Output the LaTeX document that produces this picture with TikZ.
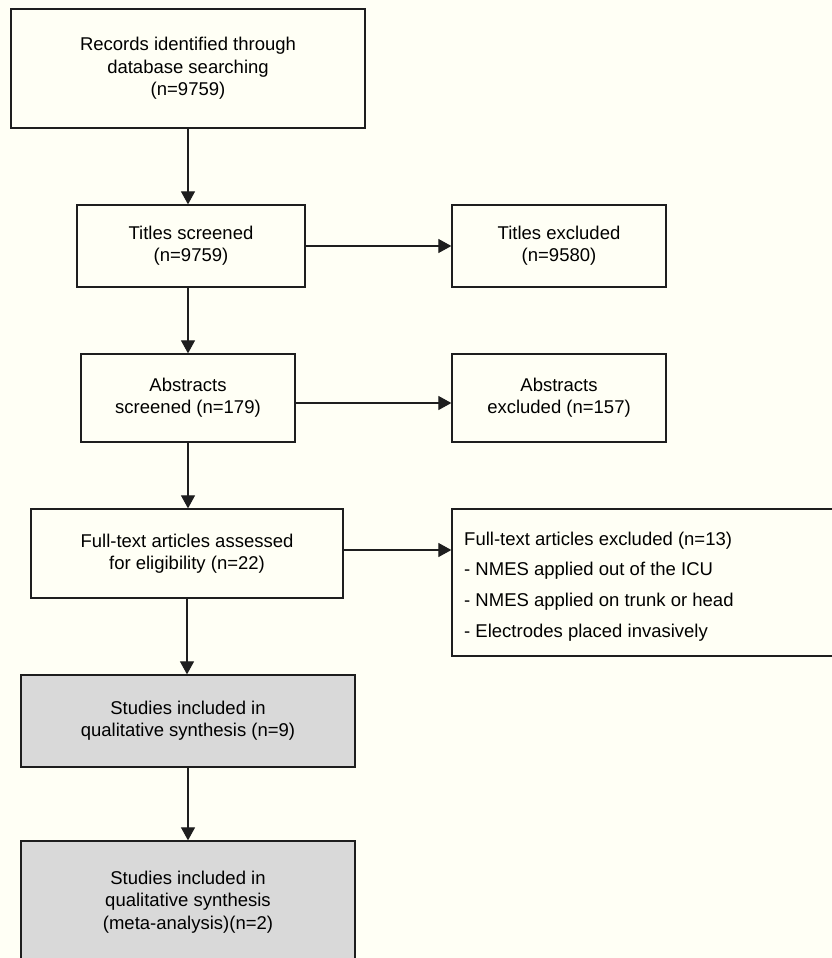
\documentclass[tikz,border=0pt]{standalone}
\usepackage{fontspec}
\setmainfont{Liberation Sans}
\usetikzlibrary{arrows.meta}
\definecolor{bgcream}{RGB}{255,255,245}
\definecolor{boxgray}{RGB}{217,217,217}
\definecolor{edge}{RGB}{30,30,30}
\tikzset{
  box/.style={draw=edge, line width=1.3pt, rectangle, inner sep=0pt, align=center,
    font=\fontsize{18.5}{22.3}\selectfont},
  graybox/.style={box, fill=boxgray},
  conn/.style={draw=edge, line width=1.2pt, -{Triangle[length=13pt,width=14pt]}},
  item/.style={anchor=base west, inner sep=0pt, font=\fontsize{18.5}{22.3}\selectfont}
}
\begin{document}
\begin{tikzpicture}[x=1pt,y=-1pt]
\useasboundingbox (0,0) rectangle (832,958);
\fill[bgcream] (0,0) rectangle (832,958);
\clip (0,0) rectangle (832,958);

\node[box, minimum width=354pt, minimum height=119pt] (rec) at (188,68.5)
  {Records identified through\\database searching\\(n=9759)};
\node[box, minimum width=228pt, minimum height=82pt] (ts) at (191,246)
  {Titles screened\\(n=9759)};
\node[box, minimum width=214pt, minimum height=82pt] (te) at (559,246)
  {Titles excluded\\(n=9580)};
\node[box, minimum width=214pt, minimum height=88pt] (as) at (188,398)
  {Abstracts\\screened (n=179)};
\node[box, minimum width=214pt, minimum height=88pt] (ae) at (559,398)
  {Abstracts\\excluded (n=157)};
\node[box, minimum width=312pt, minimum height=89pt] (ft) at (187,553.5)
  {Full-text articles assessed\\for eligibility (n=22)};
\node[box, minimum width=400pt, minimum height=147pt] (fe) at (652,582.5) {};
\node[item] (fe1) at (464,545) {Full-text articles excluded (n=13)};
\node[item] (fe2) at (464,575) {- NMES applied out of the ICU};
\node[item] (fe3) at (464,606) {- NMES applied on trunk or head};
\node[item] (fe4) at (464,637) {- Electrodes placed invasively};
\node[graybox, minimum width=334pt, minimum height=92pt] (s1) at (188,721)
  {Studies included in\\qualitative synthesis (n=9)};
\node[graybox, minimum width=334pt, minimum height=122pt] (s2) at (188,902)
  {Studies included in\\qualitative synthesis\\(meta-analysis)(n=2)};

\draw[conn] (rec.south) -- (rec.south |- ts.north);
\draw[conn] (ts.south -| rec.south) -- (as.north -| rec.south);
\draw[conn] (as.south) -- (as.south |- ft.north);
\draw[conn] (ft.south) -- (ft.south |- s1.north);
\draw[conn] (s1.south) -- (s2.north);
\draw[conn] (ts.east) -- (ts.east -| te.west);
\draw[conn] ([yshift=-5pt]as.east) -- ([yshift=-5pt]as.east -| ae.west);
\draw[conn] ([yshift=3.5pt]ft.east) -- ([yshift=3.5pt]ft.east -| fe.west);
\end{tikzpicture}
\end{document}
